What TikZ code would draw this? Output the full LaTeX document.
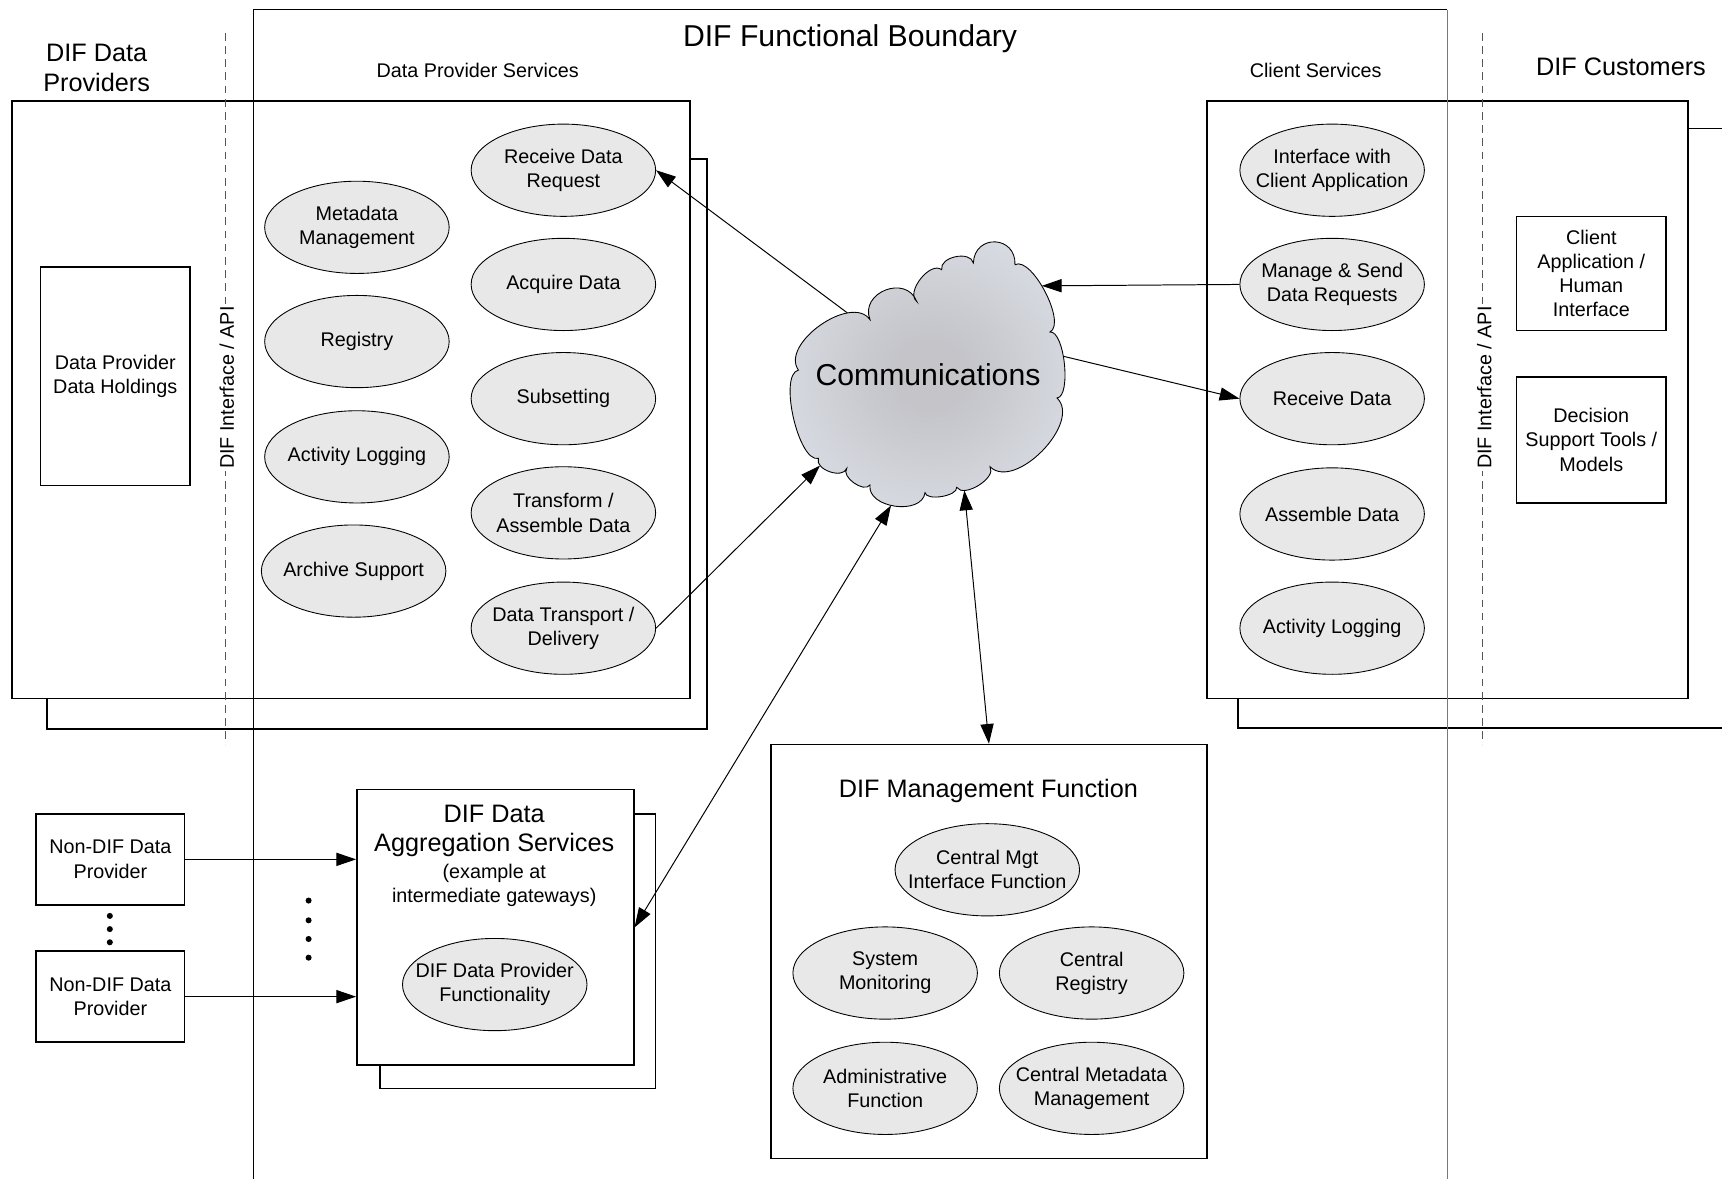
\documentclass[tikz,border=0pt]{standalone}
\usepackage{fontspec}
\setmainfont{Liberation Sans}
\usetikzlibrary{shapes.geometric,arrows.meta,intersections}

\definecolor{ellfill}{RGB}{232,232,232}
\definecolor{linegray}{RGB}{85,85,85}
\definecolor{edgegray}{RGB}{120,120,120}
\definecolor{cloudin}{RGB}{196,196,201}
\definecolor{cloudout}{RGB}{236,244,252}

\pgfdeclareradialshading{cloudshade}{\pgfpoint{0bp}{0bp}}{%
  color(0bp)=(cloudin); color(6bp)=(cloudin); color(47bp)=(cloudout); color(50bp)=(cloudout)}

\tikzset{
  txt/.style={font=\fontsize{18}{22}\selectfont, align=center, inner sep=0pt},
  bigtxt/.style={font=\fontsize{23}{27}\selectfont, align=center, inner sep=0pt},
  frame/.style={draw=black, line width=1.5pt, fill=white},
  func/.style={ellipse, draw, line width=0.8pt, fill=ellfill,
    minimum width=168pt, minimum height=84pt, inner xsep=-15pt, inner ysep=0pt,
    font=\fontsize{18}{22}\selectfont, align=center},
  unit/.style={rectangle, draw, line width=1.5pt, fill=white,
    font=\fontsize{18}{22}\selectfont, align=center, inner sep=0pt},
  tip/.tip={Triangle[length=18pt,width=12pt]},
  link/.style={line width=0.9pt, -tip},
  dlink/.style={line width=0.9pt, tip-tip},
  iface/.style={draw=linegray, line width=1.1pt, dash pattern=on 7pt off 5pt},
  dot/.style={circle, fill=black, inner sep=0pt, minimum size=5.5pt},
}

\begin{document}
\begin{tikzpicture}[x=1pt,y=-1pt]
\useasboundingbox (0,0) rectangle (1568,1073);

% ---- stacked frames (rear copies first) ----
\draw[frame] (43,145) rectangle (644,664);
\draw[frame] (11,92) rectangle (628,636);
\draw[frame] (1127,117) rectangle (1600,663);
\draw[frame] (1099,92) rectangle (1537,636);
\draw[frame] (346,741) rectangle (597,991);
\node[unit, minimum width=252pt, minimum height=251pt] (agg) at (451,844.5) {};
\node[unit, minimum width=397pt, minimum height=377pt] (mgmt) at (900.5,866.5) {};

% ---- functional boundary ----
\draw[line width=0.8pt] (231,1080) -- (231,9) -- (1318,9);
\draw[draw=edgegray, line width=1.5pt] (1318,9) -- (1318,1080);
\node[font=\fontsize{27.5}{30}\selectfont, inner sep=0pt] (boundary) at (774,35.5) {DIF Functional Boundary};

% ---- interface lines ----
\draw[iface] (205,30) -- (205,678);
\draw[iface] (1350,30) -- (1350,678);
\node[txt, rotate=90, fill=white, inner sep=1.5pt] (apileft) at (206.5,353) {DIF Interface / API};
\node[txt, rotate=90, fill=white, inner sep=1.5pt] (apiright) at (1351.5,353) {DIF Interface / API};

% ---- headings ----
\node[bigtxt] (providers) at (88,62) {DIF Data\\Providers};
\node[txt] (dpserv) at (435,64.5) {Data Provider Services};
\node[txt] (clserv) at (1198,64.5) {Client Services};
\node[bigtxt] (customers) at (1476,60.5) {DIF Customers};

% ---- data provider side ----
\node[unit, minimum width=136pt, minimum height=199pt] (holdings) at (105,342.5) {Data Provider\\Data Holdings};

\node[func] (meta) at (325,207) {Metadata\\Management};
\node[func] (reg)  at (325,311) {Registry};
\node[func] (alog) at (325,416) {Activity Logging};
\node[func] (arch) at (322,520) {Archive Support};

\node[func] (rdr)  at (513,155) {Receive Data\\Request};
\node[func] (acq)  at (513,259) {Acquire Data};
\node[func] (sub)  at (513,363) {Subsetting};
\node[func] (trans) at (513,467) {Transform /\\Assemble Data};
\node[func] (dt)   at (513,572) {Data Transport /\\Delivery};

% ---- client side ----
\node[func] (icl) at (1213,155) {Interface with\\Client Application};
\node[func] (msd) at (1213,259) {Manage \& Send\\Data Requests};
\node[func] (rd)  at (1213,363) {Receive Data};
\node[func] (asm) at (1213,468) {Assemble Data};
\node[func] (clog) at (1213,572) {Activity Logging};

\node[unit, minimum width=136pt, minimum height=104pt] (capp) at (1449,249) {Client\\Application /\\Human\\Interface};
\node[unit, minimum width=136pt, minimum height=115pt] (dst) at (1449,400.5) {Decision\\Support Tools /\\Models};

% ---- aggregation ----
\node[unit, minimum width=135pt, minimum height=83pt] (nd1) at (100.5,782.5) {Non-DIF Data\\Provider};
\node[unit, minimum width=135pt, minimum height=83pt] (nd2) at (100.5,907.5) {Non-DIF Data\\Provider};
\node[dot] (da) at (100,834) {};
\node[dot] (db) at (100,846) {};
\node[dot] (dc) at (100,858) {};
\node[dot] (ga) at (281,820) {};
\node[dot] (gb) at (281,838) {};
\node[dot] (gc) at (281,855) {};
\node[dot] (gd) at (281,872) {};

\node[bigtxt] (aggtitle) at (450,756.5) {DIF Data\\Aggregation Services};
\node[txt] (aggnote) at (450,806.5) {(example at\\intermediate gateways)};
\node[func] (dpf) at (450.5,896.5) {DIF Data Provider\\Functionality};

% ---- management ----
\node[bigtxt] (mgmttitle) at (900,720.5) {DIF Management Function};
\node[func] (cmif) at (899,792) {Central Mgt\\Interface Function};
\node[func] (smon) at (806,886) {System\\Monitoring};
\node[func] (creg) at (994,886) {Central\\Registry};
\node[func] (adm)  at (806,991) {Administrative\\Function};
\node[func] (cmm)  at (994,991) {Central Metadata\\Management};

% ---- communications cloud (hand-drawn puffs) ----
\draw[line width=0.8pt, shading=cloudshade, name path=cloudpath]
  (792.2,291.1)
  .. controls (782.5,266.3) and (825.0,249.6) .. (834.7,274.4)
  .. controls (824.3,266.1) and (847.1,237.3) .. (857.5,245.6)
  .. controls (855.0,233.9) and (883.8,227.8) .. (886.3,239.5)
  .. controls (887.4,212.8) and (925.3,214.3) .. (924.2,241.0)
  .. controls (939.5,233.0) and (971.4,294.3) .. (956.1,302.3)
  .. controls (969.3,300.9) and (975.7,361.0) .. (962.5,362.4)
  .. controls (985.4,384.7) and (924.4,447.3) .. (901.5,425.0)
  .. controls (907.8,435.2) and (877.4,453.9) .. (871.1,443.7)
  .. controls (872.4,451.6) and (843.6,456.5) .. (842.3,448.6)
  .. controls (839.4,469.7) and (789.3,462.7) .. (792.2,441.6)
  .. controls (786.8,449.2) and (765.6,434.1) .. (771.0,426.5)
  .. controls (767.4,436.6) and (741.6,427.5) .. (745.2,417.4)
  .. controls (727.0,421.5) and (708.7,341.1) .. (727.0,337.0)
  .. controls (710.1,313.0) and (775.3,267.1) .. (792.2,291.1)
  -- cycle;
\node[font=\fontsize{27.5}{30}\selectfont, inner sep=0pt] (commlabel) at (845,341) {Communications};

% points where the connectors meet the cloud outline
\path[name path=toRdr] (rdr.east) -- (820,321);
\path[name path=toMsd] (msd.west) -- (850,261);
\path[name path=toRd]  (rd.west) -- (900,308);
\path[name path=toDt]  (dt.east) -- (790,381);
\path[name path=toAgg] (agg.east) -- (820,446);
\path[name path=toMgmt] (mgmt.north) -- (875,415);
\path[name intersections={of=cloudpath and toRdr, by=cRdr}];
\path[name intersections={of=cloudpath and toMsd, by=cMsd}];
\path[name intersections={of=cloudpath and toRd, by=cRd}];
\path[name intersections={of=cloudpath and toDt, by=cDt}];
\path[name intersections={of=cloudpath and toAgg, by=cAgg}];
\path[name intersections={of=cloudpath and toMgmt, by=cMgmt}];

% ---- connectors ----
\draw[link] (cRdr) -- (rdr.east);
\draw[link] (msd.west) -- (cMsd);
\draw[link] (cRd) -- (rd.west);
\draw[link] (dt.east) -- (cDt);
\draw[dlink] (cAgg) -- (agg.east);
\draw[dlink] (cMgmt) -- (mgmt.north);
\draw[link] (nd1.east) -- (nd1.east -| agg.west);
\draw[link] (nd2.east) -- (nd2.east -| agg.west);
\end{tikzpicture}
\end{document}
